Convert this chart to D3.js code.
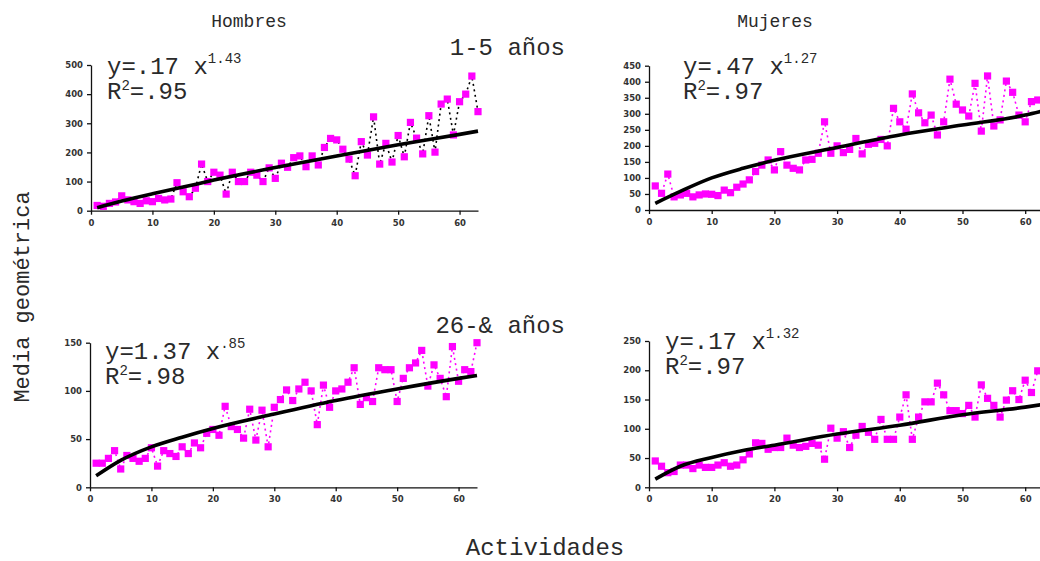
<!DOCTYPE html>
<html>
<head>
<meta charset="utf-8">
<script src="https://cdn.jsdelivr.net/npm/d3@7/dist/d3.min.js"></script>
<style>
    body { margin: 0; background: #fff; }
    .tick text { font-family: "DejaVu Sans", sans-serif; font-size: 8.5px; font-weight: bold; fill: #333; }
    .lbl { font-family: "Liberation Mono", "Courier New", monospace; fill: #2a2a2a; }
</style>
</head>
<body>
<script>
    // activity number on the x axis
    var activities = d3.range(1, 64);
    var xTicks = [0, 10, 20, 30, 40, 50, 60];

    // media geometrica, one value per activity
    var hombres15 = [18, 15, 25, 30, 51, 37, 31, 25, 34, 31, 42, 37, 40, 96, 65, 48, 77, 160, 100, 132,
        122, 57, 132, 100, 100, 132, 122, 100, 147, 111, 163, 149, 182, 188, 151, 188, 157, 217, 248, 243,
        211, 177, 120, 237, 191, 322, 160, 231, 167, 258, 185, 303, 249, 195, 326, 201, 366, 383, 260, 374,
        400, 462, 340];
    var mujeres15 = [75, 52, 112, 41, 47, 52, 41, 47, 50, 49, 45, 62, 54, 71, 81, 94, 120, 140, 156, 125,
        182, 140, 130, 125, 156, 158, 177, 275, 177, 200, 179, 189, 223, 175, 205, 208, 220, 200, 317, 275,
        252, 362, 303, 272, 296, 234, 275, 408, 330, 312, 293, 395, 246, 418, 262, 281, 402, 367, 296, 275,
        338, 343, 345];
    var hombres26 = [25, 25, 30, 38, 19, 33, 30, 27, 30, 41, 22, 38, 35, 32, 42, 35, 46, 41, 56, 60,
        54, 84, 63, 60, 51, 81, 49, 80, 42, 83, 91, 101, 90, 102, 109, 100, 65, 106, 83, 100,
        102, 109, 124, 86, 93, 89, 124, 122, 122, 89, 113, 124, 129, 142, 105, 127, 113, 94, 146, 110,
        122, 120, 150];
    var mujeres26 = [45, 36, 25, 27, 38, 38, 32, 38, 34, 34, 38, 42, 36, 38, 47, 57, 76, 75, 65, 68,
        68, 84, 72, 68, 70, 75, 72, 48, 101, 84, 95, 68, 89, 104, 94, 82, 116, 82, 82, 120,
        158, 82, 120, 146, 146, 178, 158, 131, 131, 126, 140, 120, 175, 152, 140, 120, 149, 165, 150, 183,
        162, 199, 200];

    // fitted curve, read at a few activities
    var fitX = [1, 5, 10, 15, 20, 30, 40, 50, 60, 63];
    var fitHombres15 = [10, 33, 58, 81, 105, 148, 188, 226, 262, 273];
    var fitMujeres15 = [21, 58, 100, 130, 155, 195, 234, 265, 296, 310];
    var fitHombres26 = [12, 28, 42, 52, 61, 76, 90, 102, 113, 116];
    var fitMujeres26 = [14, 36, 51, 63, 72, 91, 106, 124, 137, 142];

    // equations
    var coefs = [".17", ".47", "1.37", ".17"];
    var exps = ["1.43", "1.27", ".85", "1.32"];
    var r2s = [".95", ".97", ".98", ".97"];

    var svg = d3.select("body").append("svg")
        .attr("width", 1040)
        .attr("height", 561);

    // panel layout: pixel boxes
    var panels = [
        { vals: hombres15, fit: fitHombres15, yMax: 500, yStep: 100, x0: 91, x1: 478, y0: 210.7, y1: 65, join: "#000", ex: 107, ey: 74 },
        { vals: mujeres15, fit: fitMujeres15, yMax: 450, yStep: 50, x0: 649, x1: 1044, y0: 210, y1: 65.7, join: "#ff00ff", ex: 683, ey: 74 },
        { vals: hombres26, fit: fitHombres26, yMax: 150, yStep: 50, x0: 90, x1: 477, y0: 487.3, y1: 342.7, join: "#ff00ff", ex: 105, ey: 359 },
        { vals: mujeres26, fit: fitMujeres26, yMax: 250, yStep: 50, x0: 649, x1: 1044, y0: 487.3, y1: 341, join: "#ff00ff", ex: 665, ey: 349 }
    ];

    panels.forEach(function (p, i) {
        var x = d3.scaleLinear().domain([0, 63]).range([p.x0, p.x1]);
        var y = d3.scaleLinear().domain([0, p.yMax]).range([p.y0, p.y1]);
        var g = svg.append("g");

        var pts = activities.map(function (a, k) { return [a, p.vals[k]]; });

        // dotted joins between consecutive points
        g.append("path")
            .datum(pts)
            .attr("fill", "none")
            .attr("stroke", p.join)
            .attr("stroke-width", 1.6)
            .attr("stroke-dasharray", "2,3.5")
            .attr("d", d3.line().x(d => x(d[0])).y(d => y(d[1])));

        // squares
        g.selectAll("rect.pt")
            .data(pts)
            .enter().append("rect")
            .attr("class", "pt")
            .attr("x", d => x(d[0]) - 3.6)
            .attr("y", d => y(d[1]) - 3.6)
            .attr("width", 7.2)
            .attr("height", 7.2)
            .attr("fill", "#ff00ff");

        // fitted curve on top
        var fitPts = fitX.map(function (a, k) { return [a, p.fit[k]]; });
        g.append("path")
            .datum(fitPts)
            .attr("fill", "none")
            .attr("stroke", "#000")
            .attr("stroke-width", 3.6)
            .attr("d", d3.line().curve(d3.curveMonotoneX).x(d => x(d[0])).y(d => y(d[1])));

        // axes
        var xAxis = d3.axisBottom(x).tickValues(xTicks).tickSize(4).tickSizeOuter(0).tickPadding(5);
        var yAxis = d3.axisLeft(y).tickValues(d3.range(0, p.yMax + 1, p.yStep)).tickSize(4).tickSizeOuter(0).tickPadding(4);
        g.append("g").attr("transform", "translate(0," + p.y0 + ")").call(xAxis);
        g.append("g").attr("transform", "translate(" + p.x0 + ",0)").call(yAxis);
        g.selectAll(".domain, .tick line").attr("stroke", "#111").attr("stroke-width", 1.3);

        // equation text
        var t = g.append("text").attr("class", "lbl").attr("x", p.ex).attr("y", p.ey).style("font-size", "24px");
        t.append("tspan").text("y=" + coefs[i] + " x");
        t.append("tspan").attr("dy", -11).style("font-size", "14px").text(exps[i]);
        var r = g.append("text").attr("class", "lbl").attr("x", p.ex).attr("y", p.ey + 25).style("font-size", "24px");
        r.append("tspan").text("R");
        r.append("tspan").attr("dy", -9).style("font-size", "14px").text("2");
        r.append("tspan").attr("dy", 9).text("=" + r2s[i]);
    });

    // titles and axis labels
    svg.append("text").attr("class", "lbl").attr("x", 249).attr("y", 27).attr("text-anchor", "middle").style("font-size", "18px").text("Hombres");
    svg.append("text").attr("class", "lbl").attr("x", 775).attr("y", 27).attr("text-anchor", "middle").style("font-size", "18px").text("Mujeres");
    svg.append("text").attr("class", "lbl").attr("x", 565).attr("y", 55).attr("text-anchor", "end").style("font-size", "24px").text("1-5 años");
    svg.append("text").attr("class", "lbl").attr("x", 565).attr("y", 333).attr("text-anchor", "end").style("font-size", "24px").text("26-& años");
    svg.append("text").attr("class", "lbl").attr("x", 545).attr("y", 555).attr("text-anchor", "middle").style("font-size", "24px").text("Actividades");
    svg.append("text").attr("class", "lbl")
        .attr("transform", "translate(29,297) rotate(-90)")
        .attr("text-anchor", "middle")
        .style("font-size", "22px")
        .text("Media geométrica");
</script>
</body>
</html>
